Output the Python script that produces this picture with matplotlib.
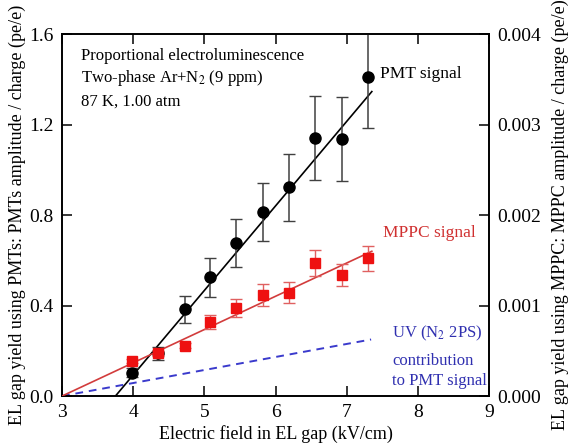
import matplotlib.pyplot as plt
import numpy as np

plt.rcParams['font.family'] = ['Liberation Serif', 'DejaVu Serif']
plt.rcParams['mathtext.fontset'] = 'stix'

# PMT signal (left axis, pe/e)
pmt_x = [3.98, 4.35, 4.72, 5.08, 5.44, 5.82, 6.18, 6.55, 6.93, 7.30]
pmt_y = [0.103, 0.189, 0.384, 0.525, 0.676, 0.814, 0.922, 1.14, 1.136, 1.41]
pmt_err = [0.02, 0.03, 0.06, 0.085, 0.107, 0.13, 0.147, 0.185, 0.185, 0.225]

# MPPC signal (right axis, pe/e)
mppc_x = [3.98, 4.35, 4.72, 5.08, 5.44, 5.82, 6.18, 6.55, 6.93, 7.30]
mppc_y = [0.000388, 0.000473, 0.000558, 0.000818, 0.00097, 0.00112,
          0.001143, 0.001468, 0.001338, 0.001523]
mppc_err = [0.00002, 0.000025, 0.00003, 0.000075, 0.0001, 0.00012,
            0.000113, 0.000143, 0.000125, 0.000138]

# linear fits (end points)
pmt_fit_x = [3.75, 7.35]
pmt_fit_y = [0.0, 1.346]
mppc_fit_x = [3.0, 7.35]
mppc_fit_y = [0.0, 0.0016]
uv_x = [3.0, 7.34]
uv_y = [0.0, 0.25]

fig, ax = plt.subplots(figsize=(5.69, 4.43), dpi=100)
fig.subplots_adjust(left=0.109, right=0.86, top=0.923, bottom=0.106)
ax2 = ax.twinx()

ax.plot(pmt_fit_x, pmt_fit_y, color='black', lw=1.2, zorder=3)
ax.errorbar(pmt_x, pmt_y, yerr=pmt_err, fmt='o', color='black', ms=8,
            ecolor='#404040', elinewidth=1.1, capsize=4.5, zorder=4)
ax.plot(uv_x, uv_y, color='#3a3acc', lw=1.4, ls=(0, (4, 3)), zorder=2)

ax2.plot(mppc_fit_x, mppc_fit_y, color='#d23c3c', lw=1.2, zorder=3)
ax2.errorbar(mppc_x, mppc_y, yerr=mppc_err, fmt='s', color='#ee1111', ms=6.5,
             ecolor='#e06060', elinewidth=1.0, capsize=4, zorder=4)

ax.set_xlim(3, 9)
ax.set_ylim(0, 1.6)
ax2.set_ylim(0, 0.004)
ax.set_xticks([3, 4, 5, 6, 7, 8, 9])
ax.set_yticks([0.0, 0.4, 0.8, 1.2, 1.6])
ax2.set_yticks([0.0, 0.001, 0.002, 0.003, 0.004])
ax2.set_yticklabels(['0.000', '0.001', '0.002', '0.003', '0.004'])

ax.tick_params(axis='both', direction='in', labelsize=14, length=7, width=1.1,
               top=True, pad=6)
ax.tick_params(axis='y', labelleft=True, right=False)
ax2.tick_params(axis='y', direction='in', labelsize=14, length=7, width=1.1, pad=6)
for a in (ax, ax2):
    for s in a.spines.values():
        s.set_linewidth(1.2)

ax.set_xlabel('Electric field in EL gap (kV/cm)', fontsize=13, labelpad=3)
ax.set_ylabel('EL gap yield using PMTs: PMTs amplitude / charge (pe/e)',
              fontsize=13, labelpad=2)
ax2.set_ylabel('EL gap yield using MPPC: MPPC amplitude / charge (pe/e)',
               fontsize=13, labelpad=7)

ax.text(3.27, 1.505, 'Proportional electroluminescence', fontsize=12, va='center')
ax.text(3.27, 1.405, 'Two-phase Ar+N$_2$ (9 ppm)', fontsize=12, va='center')
ax.text(3.27, 1.30, '87 K, 1.00 atm', fontsize=12, va='center')
ax.text(7.46, 1.425, 'PMT signal', fontsize=12.5, va='center')
ax.text(7.5, 0.72, 'MPPC signal', fontsize=12.5, va='center', color='#d03030')
ax.text(7.64, 0.275, 'UV (N$_2$ 2PS)', fontsize=12, va='center', color='#3030b0')
ax.text(7.64, 0.155, 'contribution', fontsize=12, va='center', color='#3030b0')
ax.text(7.63, 0.065, 'to PMT signal', fontsize=12, va='center', color='#3030b0')

fig.savefig('out.png', dpi=100)
